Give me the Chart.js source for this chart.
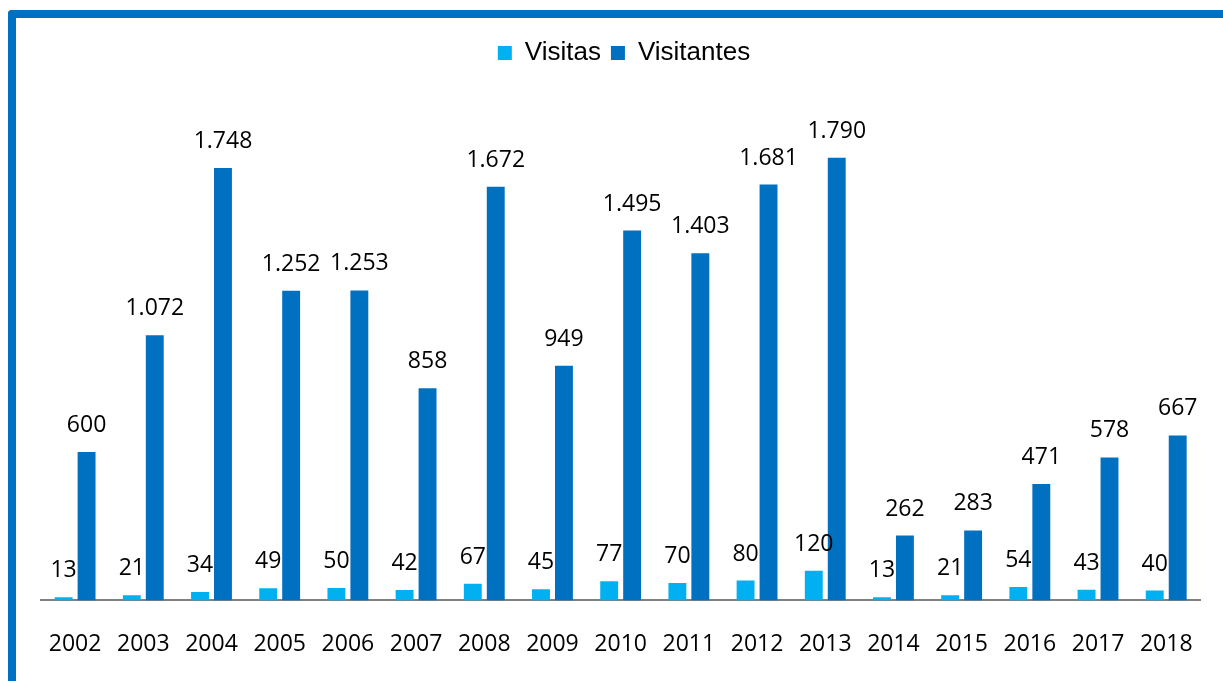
<!DOCTYPE html>
<html>
<head>
<meta charset="utf-8">
<script src="https://cdn.jsdelivr.net/npm/chart.js@4.4.1/dist/chart.umd.min.js"></script>
<style>
  html, body { margin: 0; padding: 0; background: #fff; overflow: hidden; }
  #wrap { position: relative; width: 1223px; height: 681px; overflow: hidden; }
  #frame { position: absolute; left: 8px; top: 10px; width: 1400px; height: 900px;
           border-top: 8px solid #0070C0; border-left: 8px solid #0070C0;
           border-top-left-radius: 4px; box-sizing: border-box; pointer-events: none; }
  canvas { position: absolute; left: 0; top: 0; }
</style>
</head>
<body>
<div id="wrap">
  <canvas id="c" width="1223" height="713"></canvas>
  <div id="frame"></div>
</div>
<script>
const categories = ["2002","2003","2004","2005","2006","2007","2008","2009","2010","2011","2012","2013","2014","2015","2016","2017","2018"];
const visitas = [13,21,34,49,50,42,67,45,77,70,80,120,13,21,54,43,40];
const visitantes = [600,1072,1748,1252,1253,858,1672,949,1495,1403,1681,1790,262,283,471,578,667];

function fmt(n) {
  const s = String(n);
  return s.replace(/\B(?=(\d{3})+(?!\d))/g, ".");
}

const labelPlugin = {
  id: 'valueLabels',
  afterDatasetsDraw(chart) {
    const ctx = chart.ctx;
    ctx.save();
    ctx.font = '23px "Open Sans"';
    ctx.fillStyle = '#000';
    ctx.textAlign = 'center';
    ctx.textBaseline = 'alphabetic';
    chart.data.datasets.forEach((ds, i) => {
      const meta = chart.getDatasetMeta(i);
      meta.data.forEach((el, j) => {
        ctx.fillText(fmt(ds.data[j]), el.x, el.y - 20);
      });
    });
    ctx.restore();
  }
};

new Chart(document.getElementById('c'), {
  type: 'bar',
  data: {
    labels: categories,
    datasets: [
      { label: 'Visitas', data: visitas, backgroundColor: '#00B0F0',
        categoryPercentage: 0.673, barPercentage: 0.78 },
      { label: 'Visitantes', data: visitantes, backgroundColor: '#0070C0',
        categoryPercentage: 0.673, barPercentage: 0.78 }
    ]
  },
  options: {
    responsive: false,
    animation: false,
    layout: { padding: { left: 41, right: 16, top: 30, bottom: 25 } },
    plugins: {
      legend: {
        position: 'top',
        labels: {
          boxWidth: 14, boxHeight: 14, padding: 10,
          color: '#000',
          font: { family: '"Liberation Sans", Arial, sans-serif', size: 26 }
        }
      },
      tooltip: { enabled: false }
    },
    scales: {
      x: {
        grid: { display: false, drawTicks: false },
        border: { display: true, color: '#808080', width: 2 },
        ticks: { color: '#000', padding: 30, font: { family: '"Open Sans"', size: 23 } }
      },
      y: {
        display: false,
        min: 0,
        max: 2120
      }
    }
  },
  plugins: [labelPlugin]
});
</script>
</body>
</html>
